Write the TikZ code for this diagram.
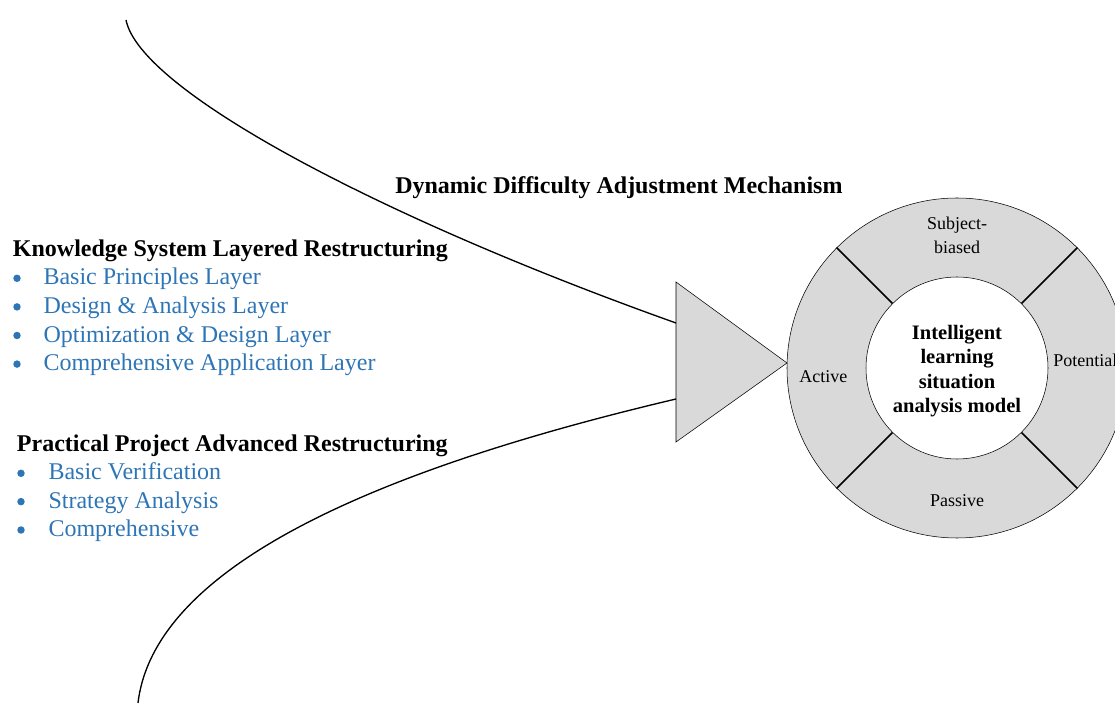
\documentclass[tikz,border=0pt]{standalone}
\usepackage{fontspec}
\setmainfont{Liberation Serif}
\usetikzlibrary{shapes.geometric}
\definecolor{itemBlue}{RGB}{46,117,182}
\definecolor{ringGray}{RGB}{217,217,217}
\tikzstyle{heading} = [font=\fontsize{18}{21}\selectfont\bfseries, anchor=base west, inner sep=0]
\tikzstyle{item} = [font=\fontsize{18}{21}\selectfont, text=itemBlue, anchor=base west, inner sep=0]
\tikzstyle{dot} = [circle, fill=itemBlue, minimum size=5.6pt, inner sep=0]
\tikzstyle{ringLabel} = [font=\fontsize{13.5}{18}\selectfont, align=center, inner sep=0]
\tikzstyle{curve} = [line width=1pt]
\tikzstyle{divider} = [line width=1.1pt]

\begin{document}
\begin{tikzpicture}[x=0.75pt, y=-0.75pt]
    \useasboundingbox (0,0) rectangle (1115,705);
    % ring model
    \node (ring) [circle, draw, fill=ringGray, minimum size=255pt, inner sep=0] at (957,368) {};
    \node (core) [circle, draw, fill=white, minimum size=136.5pt, inner sep=0] at (957,368) {};
    \node (coreText) [align=center, inner sep=0, font=\fontsize{15.4}{18.4}\selectfont\bfseries]
        at (957,371) {Intelligent\\learning\\situation\\analysis model};
    \foreach \a in {45,135,225,315}
        \draw [divider] (core.\a) -- (ring.\a);
    \node (subj) [ringLabel] at (957,235) {Subject-\\biased};
    \node (active) [ringLabel, anchor=base west] at (799,383) {Active};
    \node (potential) [ringLabel, anchor=base west] at (1053,367) {Potential};
    \node (passive) [ringLabel, anchor=base] at (957,507) {Passive};
    % funnel
    \coordinate (triTop) at (676,282);
    \coordinate (triBot) at (676,442);
    \coordinate (triTip) at (787,363);
    \draw [fill=ringGray] (triTop) -- (triTip) -- (triBot) -- cycle;
    \coordinate (upStart) at (126,20);
    \coordinate (upEnd) at (676,323);
    \coordinate (lowStart) at (138,703);
    \coordinate (lowEnd) at (676,399);
    \draw [curve] (upStart) .. controls (140,90) and (376,216) .. (upEnd);
    \draw [curve] (lowStart) .. controls (155,560) and (396,465) .. (lowEnd);
    % texts
    \node (dynTitle) [heading] at (395,193.3) {Dynamic Difficulty Adjustment Mechanism};
    \node (ksTitle) [heading] at (12.7,256.7) {Knowledge System Layered Restructuring};
    \foreach \t [count=\i] in {Basic Principles Layer, Design \& Analysis Layer,
                               Optimization \& Design Layer, Comprehensive Application Layer} {
        \node (ksDot\i) [dot] at (17,{278.3+28.6*(\i-1)}) {};
        \node (ks\i) [item] at (43.3,{285+28.6*(\i-1)}) {\t};
    }
    \node (ppTitle) [heading] at (16.7,451.7) {Practical Project Advanced Restructuring};
    \foreach \t [count=\i] in {Basic Verification, Strategy Analysis, Comprehensive} {
        \node (ppDot\i) [dot] at (21,{473.3+28.35*(\i-1)}) {};
        \node (pp\i) [item] at (48.3,{480+28.35*(\i-1)}) {\t};
    }
\end{tikzpicture}
\end{document}
